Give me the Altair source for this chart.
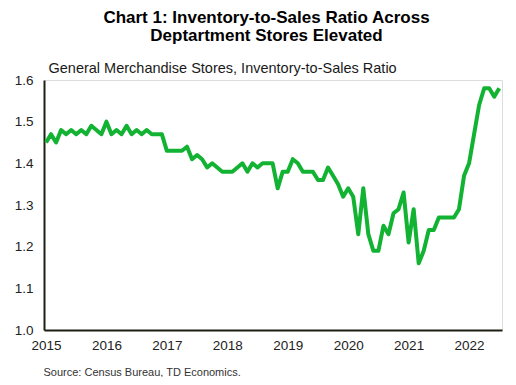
import altair as alt
import numpy as np
import pandas as pd

# Monthly data, Jan 2015 - Jul 2022
start_year = 2015
ratio = [
    1.45, 1.47, 1.45, 1.48, 1.47, 1.48, 1.47, 1.48, 1.47, 1.49, 1.48, 1.47,  # 2015
    1.50, 1.47, 1.48, 1.47, 1.49, 1.47, 1.48, 1.47, 1.48, 1.47, 1.47, 1.47,  # 2016
    1.43, 1.43, 1.43, 1.43, 1.44, 1.41, 1.42, 1.41, 1.39, 1.40, 1.39, 1.38,  # 2017
    1.38, 1.38, 1.39, 1.40, 1.38, 1.40, 1.39, 1.40, 1.40, 1.40, 1.34, 1.38,  # 2018
    1.38, 1.41, 1.40, 1.38, 1.38, 1.38, 1.36, 1.36, 1.39, 1.37, 1.35, 1.32,  # 2019
    1.34, 1.32, 1.23, 1.34, 1.23, 1.19, 1.19, 1.25, 1.23, 1.28, 1.29, 1.33,  # 2020
    1.21, 1.29, 1.16, 1.19, 1.24, 1.24, 1.27, 1.27, 1.27, 1.27, 1.29, 1.37,  # 2021
    1.40, 1.47, 1.54, 1.58, 1.58, 1.56, 1.58,                                # 2022
]
year_ticks = [2015, 2016, 2017, 2018, 2019, 2020, 2021, 2022]
y_ticks = [1.0, 1.1, 1.2, 1.3, 1.4, 1.5, 1.6]

df = pd.DataFrame({
    "t": start_year + np.arange(len(ratio)) / 12.0,
    "ratio": ratio,
})

FONT = "Liberation Sans"
AXIS_COLOR = "#1e1e14"

chart = (
    alt.Chart(df)
    .mark_line(color="#12b232", strokeWidth=4, strokeJoin="round")
    .encode(
        x=alt.X(
            "t:Q",
            scale=alt.Scale(domain=[2014.967, 2022.545], nice=False, zero=False),
            axis=alt.Axis(
                values=year_ticks, format="d", ticks=False, grid=False,
                domainColor=AXIS_COLOR, domainWidth=2,
                labelFont=FONT, labelFontSize=13.5, labelColor="#222222",
                labelPadding=8, labelFlush=False, labelOverlap=False,
                title="Source: Census Bureau, TD Economics.",
                titleFont=FONT, titleFontSize=11, titleFontWeight="normal",
                titleColor="#333333", titleAngle=0, titleAlign="left",
                titleBaseline="middle", titleX=-1, titleY=42,
            ),
        ),
        y=alt.Y(
            "ratio:Q",
            scale=alt.Scale(domain=[1.0, 1.6], nice=False, zero=False),
            axis=alt.Axis(
                values=y_ticks, format=".1f", ticks=False, grid=False,
                domainColor=AXIS_COLOR, domainWidth=2,
                labelFont=FONT, labelFontSize=13.5, labelColor="#222222",
                labelPadding=11, labelOverlap=False, labelFlush=False,
                title="General Merchandise Stores, Inventory-to-Sales Ratio",
                titleFont=FONT, titleFontSize=14.5, titleFontWeight="normal",
                titleColor="#1a1a1a", titleAngle=0, titleAlign="left",
                titleBaseline="middle", titleX=4, titleY=-12,
            ),
        ),
    )
    .properties(
        width=458,
        height=250,
        autosize=alt.AutoSizeParams(type="none"),
        padding={"left": 36, "top": 72, "right": 6, "bottom": 47},
        title=alt.TitleParams(
            text=["Chart 1: Inventory-to-Sales Ratio Across", "Deptartment Stores Elevated"],
            font=FONT, fontSize=17, fontWeight="bold", color="#000000",
            lineHeight=18, anchor="middle", dx=-6.5, offset=15,
        ),
    )
    .configure_view(stroke=None)
    .configure(background="white")
)

chart.save("out.html", embed_options={"renderer": "svg", "actions": False})
